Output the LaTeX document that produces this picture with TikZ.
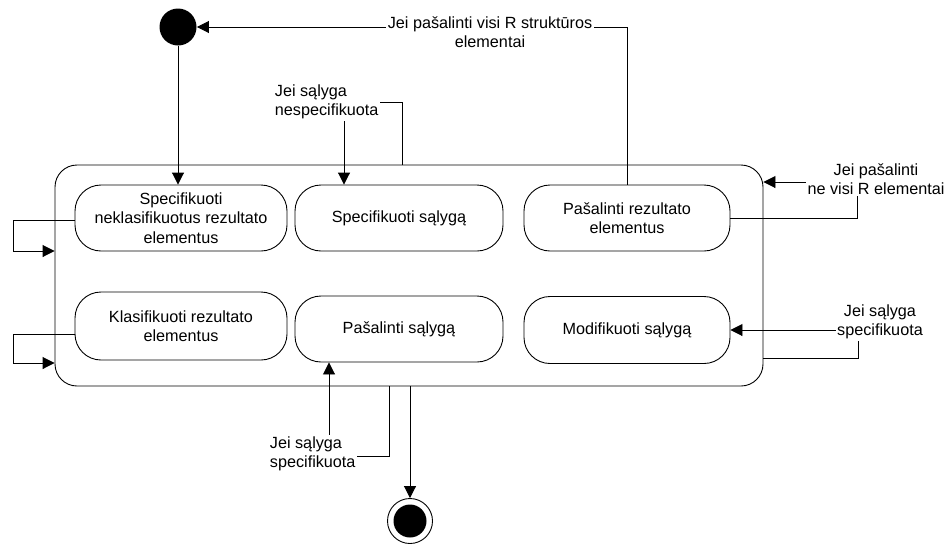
\documentclass[tikz,border=0pt]{standalone}
\usepackage{fontspec}
\setmainfont{Liberation Sans}
\usetikzlibrary{arrows.meta}
\newcommand\dgfont{\fontsize{16.2}{19.3}\selectfont}
\begin{document}
\begin{tikzpicture}[x=1pt,y=-1pt,
  line width=0.9pt,
  arr/.style={-{Triangle[length=12pt,width=12pt]}},
  statebox/.style={draw, rounded corners=26pt, align=center, font=\dgfont, minimum height=66pt, inner sep=2pt},
  lbl/.style={fill=white, inner sep=1.5pt, font=\dgfont}]
\useasboundingbox (0,0) rectangle (947,544);

% composite state
\node[draw, rounded corners=22pt, minimum width=708pt, minimum height=221pt, inner sep=0pt] (outer) at (409,275.5) {};

% states
\node[statebox, minimum width=212pt] (s1) at (181,218) {Specifikuoti\\neklasifikuotus rezultato\\elementus};
\node[statebox, minimum width=208pt] (s2) at (399,218) {Specifikuoti sąlygą};
\node[statebox, minimum width=206pt] (s3) at (627,218) {Pašalinti rezultato\\elementus};
\node[statebox, minimum width=212pt, minimum height=68pt] (s4) at (181,326) {Klasifikuoti rezultato\\elementus};
\node[statebox, minimum width=208pt] (s5) at (399,329) {Pašalinti sąlygą};
\node[statebox, minimum width=206pt, minimum height=67pt] (s6) at (627,330) {Modifikuoti sąlygą};

% initial and final
\node[circle, fill=black, minimum size=37pt, inner sep=0pt] (init) at (178,27) {};
\node[circle, draw, fill=white, minimum size=45pt, inner sep=0pt] (fin) at (410,521) {};
\node[circle, fill=black, minimum size=33pt, inner sep=0pt] (finin) at (fin) {};

% bend points
\coordinate (k2) at (402,102);
\coordinate (k2x) at (344,102);
\coordinate (k3) at (857,182);
\coordinate (k4a) at (858,358);
\coordinate (k4) at (858,330);
\coordinate (k5) at (389,456);
\coordinate (k5x) at (329,456);
\coordinate (k6) at (13,220);
\coordinate (k6b) at (13,251);
\coordinate (k7) at (13,334);
\coordinate (k7b) at (13,363);

% connectors
\draw[arr] (init) -- (init |- s1.north);
\draw[arr] (s3.north) |- (init.east);
\draw[arr] (outer.north -| k2) -- (k2) -- (k2x) -- (s2.north -| k2x);
\draw[arr] (s3.east) -| (k3) -- (outer.east |- k3);
\draw[arr] (outer.east |- k4a) -- (k4a) -- (k4) -- (s6.east |- k4);
\draw[arr] (outer.south -| k5) -- (k5) -- (k5x) -- (s5.south -| k5x);
\draw[arr] (outer.south -| fin) -- (fin.north);
\draw[arr] (s1.west |- k6) -- (k6) -- (k6b) -- (outer.west |- k6b);
\draw[arr] (s4.west |- k7) -- (k7) -- (k7b) -- (outer.west |- k7b);

% labels
\node[lbl, align=center] (l1) at (490,32) {Jei pašalinti visi R struktūros\\elementai};
\node[lbl, align=left, anchor=west] (l2) at (273,102) {Jei sąlyga\\nespecifikuota};
\node[lbl, align=center] (l3) at (876,179) {Jei pašalinti\\ne visi R elementai};
\node[lbl, align=center] (l4) at (880,322) {Jei sąlyga\\specifikuota};
\node[lbl, align=left, anchor=west] (l5) at (268,454) {Jei sąlyga\\specifikuota};
\end{tikzpicture}
\end{document}
